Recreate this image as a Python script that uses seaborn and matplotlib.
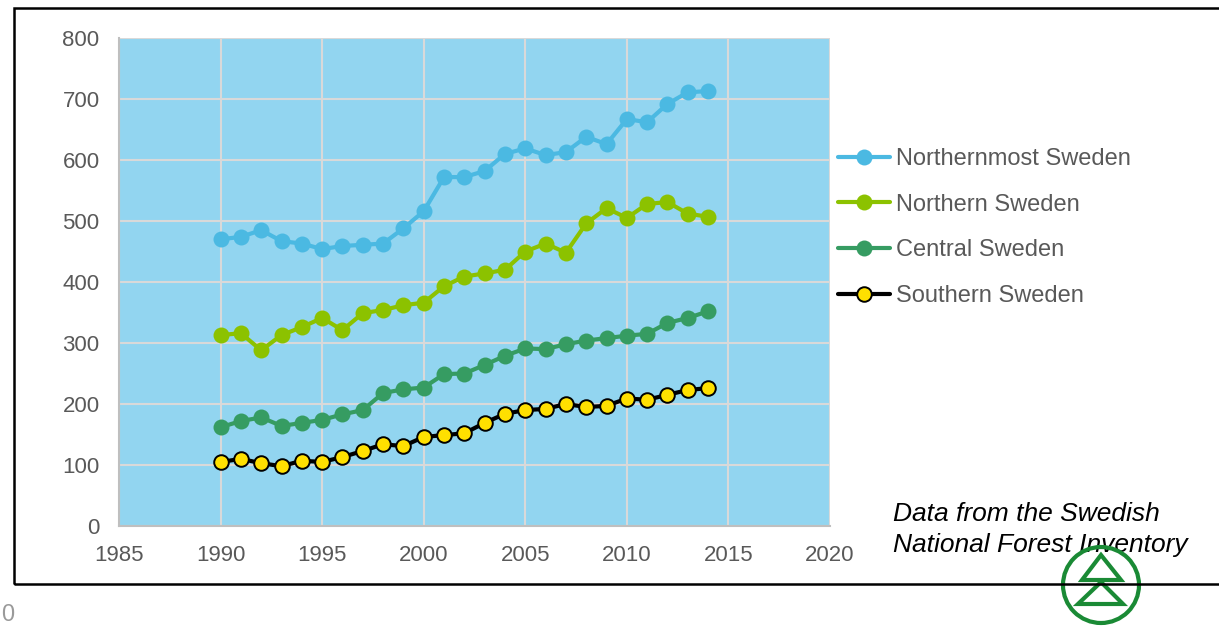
import numpy as np
import pandas as pd
import seaborn as sns
import matplotlib.pyplot as plt
from matplotlib.patches import Rectangle, Circle, Polygon

years = list(range(1990, 2015))

northernmost = [470, 474, 485, 467, 463, 454, 459, 461, 463, 488, 516, 572, 572, 582, 610,
                619, 608, 613, 638, 626, 667, 662, 692, 711, 713]
northern = [313, 316, 288, 313, 326, 341, 321, 349, 354, 362, 366, 393, 409, 414, 420,
            450, 463, 448, 496, 521, 505, 528, 531, 512, 507]
central = [162, 172, 178, 164, 169, 174, 183, 190, 218, 224, 227, 249, 250, 264, 279,
           291, 290, 298, 304, 308, 312, 315, 333, 341, 352]
southern = [105, 110, 103, 98, 107, 105, 113, 123, 134, 131, 146, 149, 152, 169, 184,
            190, 192, 200, 195, 197, 209, 207, 215, 223, 226]

series_names = ["Northernmost Sweden", "Northern Sweden", "Central Sweden", "Southern Sweden"]
xticks = list(range(1985, 2021, 5))
yticks = list(range(0, 801, 100))

df = pd.DataFrame({"year": years,
                   "Northernmost Sweden": northernmost,
                   "Northern Sweden": northern,
                   "Central Sweden": central,
                   "Southern Sweden": southern})

sns.set_style("white")
plt.rcParams['font.family'] = ['Liberation Sans', 'DejaVu Sans']

W, H = 1219, 628
fig = plt.figure(figsize=(W / 100, H / 100), dpi=100)
ax = fig.add_axes([119 / W, 1 - 526 / H, (830 - 119) / W, (526 - 38) / H])
ax.set_facecolor("#92D5F0")

# one style per region, southern is the odd one out
styles = {
    "Northernmost Sweden": dict(color="#4BB9E2", mfc="#4BB9E2", mec="#4BB9E2", ms=11.5, mew=0),
    "Northern Sweden": dict(color="#8CC200", mfc="#8CC200", mec="#8CC200", ms=11.5, mew=0),
    "Central Sweden": dict(color="#369C62", mfc="#369C62", mec="#369C62", ms=11.5, mew=0),
    "Southern Sweden": dict(color="black", mfc="#FFE000", mec="black", ms=10.5, mew=1.4),
}
for name in series_names:
    st = styles[name]
    sns.lineplot(data=df, x="year", y=name, ax=ax, label=name, color=st["color"],
                 linewidth=3, marker="o", markersize=st["ms"],
                 markerfacecolor=st["mfc"], markeredgecolor=st["mec"],
                 markeredgewidth=st["mew"], zorder=3)

ax.set_xlim(1985, 2020)
ax.set_ylim(0, 800)
ax.set_xticks(xticks)
ax.set_yticks(yticks)
ax.set_xlabel("")
ax.set_ylabel("")
ax.grid(True, color="#D9D9D9", linewidth=1.5, zorder=0)
ax.set_axisbelow(True)
for side in ["top", "right"]:
    ax.spines[side].set_visible(False)
for side in ["left", "bottom"]:
    ax.spines[side].set_color("#BFBFBF")
    ax.spines[side].set_linewidth(1.5)
ax.tick_params(axis="both", length=0, labelsize=16, labelcolor="#595959")
ax.tick_params(axis="y", pad=14)
ax.tick_params(axis="x", pad=14)

handles, labels = ax.get_legend_handles_labels()
ax.get_legend().remove()
leg = fig.legend(handles, labels, loc="upper left",
                 bbox_to_anchor=(838 / W, 1 - 148 / H), bbox_transform=fig.transFigure,
                 frameon=False, fontsize=17, handlelength=2.2, handletextpad=0.25,
                 labelspacing=1.0, borderpad=0, borderaxespad=0)
for t in leg.get_texts():
    t.set_color("#595959")

fig.text(893 / W, 1 - 502 / H, "Data from the Swedish\nNational Forest Inventory",
         fontsize=19, style="italic", color="black", va="top", ha="left", linespacing=1.35)

# logo
green = "#1A8A35"
tr = fig.dpi_scale_trans
fig.add_artist(Circle((1101 / 100, (H - 585) / 100), 0.38, fill=False, ec=green, lw=3,
                      transform=tr, zorder=5))
fig.add_artist(Polygon([(1101 / 100, (H - 555) / 100), (1082 / 100, (H - 580) / 100),
                        (1121 / 100, (H - 580) / 100)], closed=True, fill=False, ec=green,
                       lw=3, transform=tr, zorder=5))
fig.add_artist(Polygon([(1101 / 100, (H - 582) / 100), (1078 / 100, (H - 604) / 100),
                        (1123 / 100, (H - 604) / 100)], closed=True, fill=False, ec=green,
                       lw=3, transform=tr, zorder=5))

# outer frame
fig.add_artist(Rectangle((14 / W, 1 - 584 / H), (1240 - 14) / W, (584 - 8) / H,
                         fill=False, ec="black", lw=1.8, transform=fig.transFigure, zorder=6))
fig.text(1 / W, 1 - 626 / H, "0", fontsize=17, color="#9A9A9A", ha="left", va="bottom")

fig.savefig("out.png", dpi=100)
